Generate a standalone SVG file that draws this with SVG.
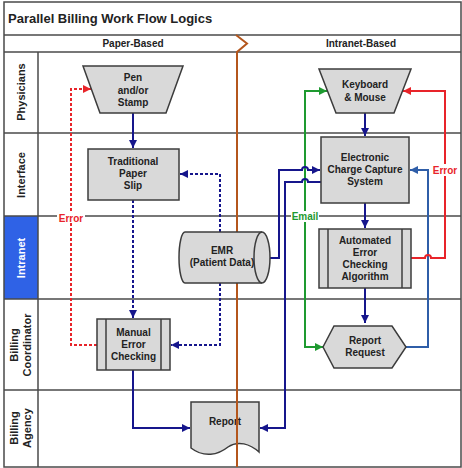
<svg xmlns="http://www.w3.org/2000/svg" width="462" height="468" viewBox="0 0 462 468">
<defs>
<style>
.frame{fill:none;stroke:#4a4a4a;stroke-width:1.5}
.lane{stroke:#4a4a4a;stroke-width:1.5}
.node{fill:#d9d9d9;stroke:#3c3c3c;stroke-width:1.5}
.nt{font-family:"Liberation Sans",Arial,sans-serif;font-weight:bold;font-size:10px;fill:#222;text-anchor:middle}
.hd{font-family:"Liberation Sans",Arial,sans-serif;font-weight:bold;font-size:10px;fill:#222;text-anchor:middle}
.ll{font-family:"Liberation Sans",Arial,sans-serif;font-weight:bold;font-size:11px;fill:#222;text-anchor:middle}
.c{fill:none;stroke-width:2}
.navy{stroke:#16168c}
.red{stroke:#e8242a}
.green{stroke:#1e9a30}
.steel{stroke:#2f5ea8}
.dash{stroke-dasharray:3,2}
.lbl{font-family:"Liberation Sans",Arial,sans-serif;font-weight:bold;font-size:10px;text-anchor:middle}
</style>
<marker id="aN" viewBox="0 0 10 10" refX="10" refY="5" markerWidth="9" markerHeight="8" markerUnits="userSpaceOnUse" orient="auto"><path d="M0,0 L10,5 L0,10 Z" fill="#16168c"/></marker>
<marker id="aR" viewBox="0 0 10 10" refX="10" refY="5" markerWidth="9" markerHeight="8" markerUnits="userSpaceOnUse" orient="auto"><path d="M0,0 L10,5 L0,10 Z" fill="#e8242a"/></marker>
<marker id="aG" viewBox="0 0 10 10" refX="10" refY="5" markerWidth="9" markerHeight="8" markerUnits="userSpaceOnUse" orient="auto"><path d="M0,0 L10,5 L0,10 Z" fill="#1e9a30"/></marker>
<marker id="aS" viewBox="0 0 10 10" refX="10" refY="5" markerWidth="9" markerHeight="8" markerUnits="userSpaceOnUse" orient="auto"><path d="M0,0 L10,5 L0,10 Z" fill="#2f5ea8"/></marker>
</defs>
<rect x="0" y="0" width="462" height="468" fill="#fff"/>
<g id="pool">
<rect x="4" y="216" width="34" height="83" fill="#2f62e6"/>
<rect class="frame" x="4" y="2" width="457" height="465"/>
<line class="lane" x1="4" y1="35" x2="461" y2="35"/>
<line class="lane" x1="4" y1="52" x2="461" y2="52"/>
<line class="lane" x1="4" y1="133" x2="461" y2="133"/>
<line class="lane" x1="4" y1="216" x2="461" y2="216"/>
<line class="lane" x1="4" y1="299" x2="461" y2="299"/>
<line class="lane" x1="4" y1="390" x2="461" y2="390"/>
<line class="lane" x1="38" y1="52" x2="38" y2="467"/>
<text x="8" y="23" font-family="Liberation Sans, Arial, sans-serif" font-weight="bold" font-size="13" fill="#222">Parallel Billing Work Flow Logics</text>
<text class="hd" x="133" y="47">Paper-Based</text>
<text class="hd" x="361" y="47">Intranet-Based</text>
<text class="ll" transform="translate(25,92) rotate(-90)">Physicians</text>
<text class="ll" transform="translate(25,175) rotate(-90)">Interface</text>
<text class="ll" transform="translate(25,258) rotate(-90)" fill="#fff" style="fill:#fff">Intranet</text>
<text class="ll" transform="translate(18,345) rotate(-90)">Billing</text>
<text class="ll" transform="translate(31,345) rotate(-90)">Coordinator</text>
<text class="ll" transform="translate(18,428) rotate(-90)">Billing</text>
<text class="ll" transform="translate(31,428) rotate(-90)">Agency</text>
</g>
<g id="report">
<path class="node" d="M191,402 H259 V452 C250,444 238,440 228,447 C218,455 204,458 191,448 Z"/>
<text class="nt" x="225" y="425">Report</text>
</g>
<g id="divider">
<path d="M236,35 L247,43.5 L237,52 V467" fill="none" stroke="#b4561c" stroke-width="2"/>
</g>
<g id="connectors">
<path class="c navy" d="M133,113 V148" marker-end="url(#aN)"/>
<path class="c navy dash" d="M133,200 V318" marker-end="url(#aN)"/>
<path class="c navy dash" d="M220,232 V174 H180" marker-end="url(#aN)"/>
<path class="c navy dash" d="M220,283 V345 H171" marker-end="url(#aN)"/>
<path class="c red dash" d="M97,345 H71 V89 H91" marker-end="url(#aR)"/>
<path class="c navy" d="M133,370 V428 H190" marker-end="url(#aN)"/>
<path class="c navy" d="M365,113 V136" marker-end="url(#aN)"/>
<path class="c navy" d="M365,203 V228" marker-end="url(#aN)"/>
<path class="c navy" d="M365,288 V323" marker-end="url(#aN)"/>
<path class="c green" d="M305,216 V91 H327" marker-end="url(#aG)"/>
<path class="c green" d="M305,216 V347 H323" marker-end="url(#aG)"/>
<path class="c navy" d="M269,258 H279 V170 H302 A3,3 0 0 1 308,170 H320" marker-end="url(#aN)"/>
<path class="c navy" d="M321,182 H308 A3,3 0 0 0 302,182 H285 V428 H260" marker-end="url(#aN)"/>
<path class="c steel" d="M406,347 H428 V170 H410" marker-end="url(#aS)"/>
<path class="c red" d="M411,258 H425 A3,3 0 0 1 431,258 H445 V91 H403" marker-end="url(#aR)"/>
<rect x="57" y="212" width="28" height="11" fill="#fff"/>
<text class="lbl" x="71" y="222" fill="#e8242a">Error</text>
<rect x="291" y="211" width="28" height="11" fill="#fff"/>
<text class="lbl" x="305" y="220" fill="#1e9a30">Email</text>
<rect x="432" y="164" width="27" height="12" fill="#fff"/>
<text class="lbl" x="445" y="174" fill="#e8242a">Error</text>
</g>
<g id="pen">
<path class="node" d="M83,66 H183 L166,113 H100 Z"/>
<text class="nt" x="133" y="81">Pen</text>
<text class="nt" x="133" y="93.5">and/or</text>
<text class="nt" x="133" y="106">Stamp</text>
</g>
<g id="paperslip">
<rect class="node" x="88" y="149" width="91" height="51"/>
<text class="nt" x="133" y="165">Traditional</text>
<text class="nt" x="133" y="177">Paper</text>
<text class="nt" x="133" y="189">Slip</text>
</g>
<g id="manual">
<rect class="node" x="97" y="319" width="73" height="51"/>
<line class="node" x1="106" y1="319" x2="106" y2="370"/>
<line class="node" x1="161" y1="319" x2="161" y2="370"/>
<text class="nt" x="133.5" y="336">Manual</text>
<text class="nt" x="133.5" y="348">Error</text>
<text class="nt" x="133.5" y="360">Checking</text>
</g>
<g id="emr">
<path class="node" d="M262,232 H185 A6,25.5 0 0 0 185,283 H262 A8,25.5 0 0 0 262,232 Z"/>
<path class="node" style="fill:none" d="M262,232 A8,25.5 0 0 0 262,283"/>
<text class="nt" x="222" y="254">EMR</text>
<text class="nt" x="222" y="266">(Patient Data)</text>
</g>
<g id="keyboard">
<path class="node" d="M319,69 H411 L394,113 H336 Z"/>
<text class="nt" x="365" y="88">Keyboard</text>
<text class="nt" x="365" y="101">&amp; Mouse</text>
</g>
<g id="eccs">
<rect class="node" x="321" y="137" width="88" height="66"/>
<text class="nt" x="365" y="161">Electronic</text>
<text class="nt" x="365" y="173">Charge Capture</text>
<text class="nt" x="365" y="185">System</text>
</g>
<g id="aeca">
<rect class="node" x="319" y="229" width="92" height="59"/>
<line class="node" x1="328" y1="229" x2="328" y2="288"/>
<line class="node" x1="402" y1="229" x2="402" y2="288"/>
<text class="nt" x="365" y="244">Automated</text>
<text class="nt" x="365" y="256">Error</text>
<text class="nt" x="365" y="268">Checking</text>
<text class="nt" x="365" y="280">Algorithm</text>
</g>
<g id="reportrequest">
<path class="node" d="M323,347 L334,326 H392 L406,347 L392,368 H334 Z"/>
<text class="nt" x="365" y="344">Report</text>
<text class="nt" x="365" y="356">Request</text>
</g>
</svg>
